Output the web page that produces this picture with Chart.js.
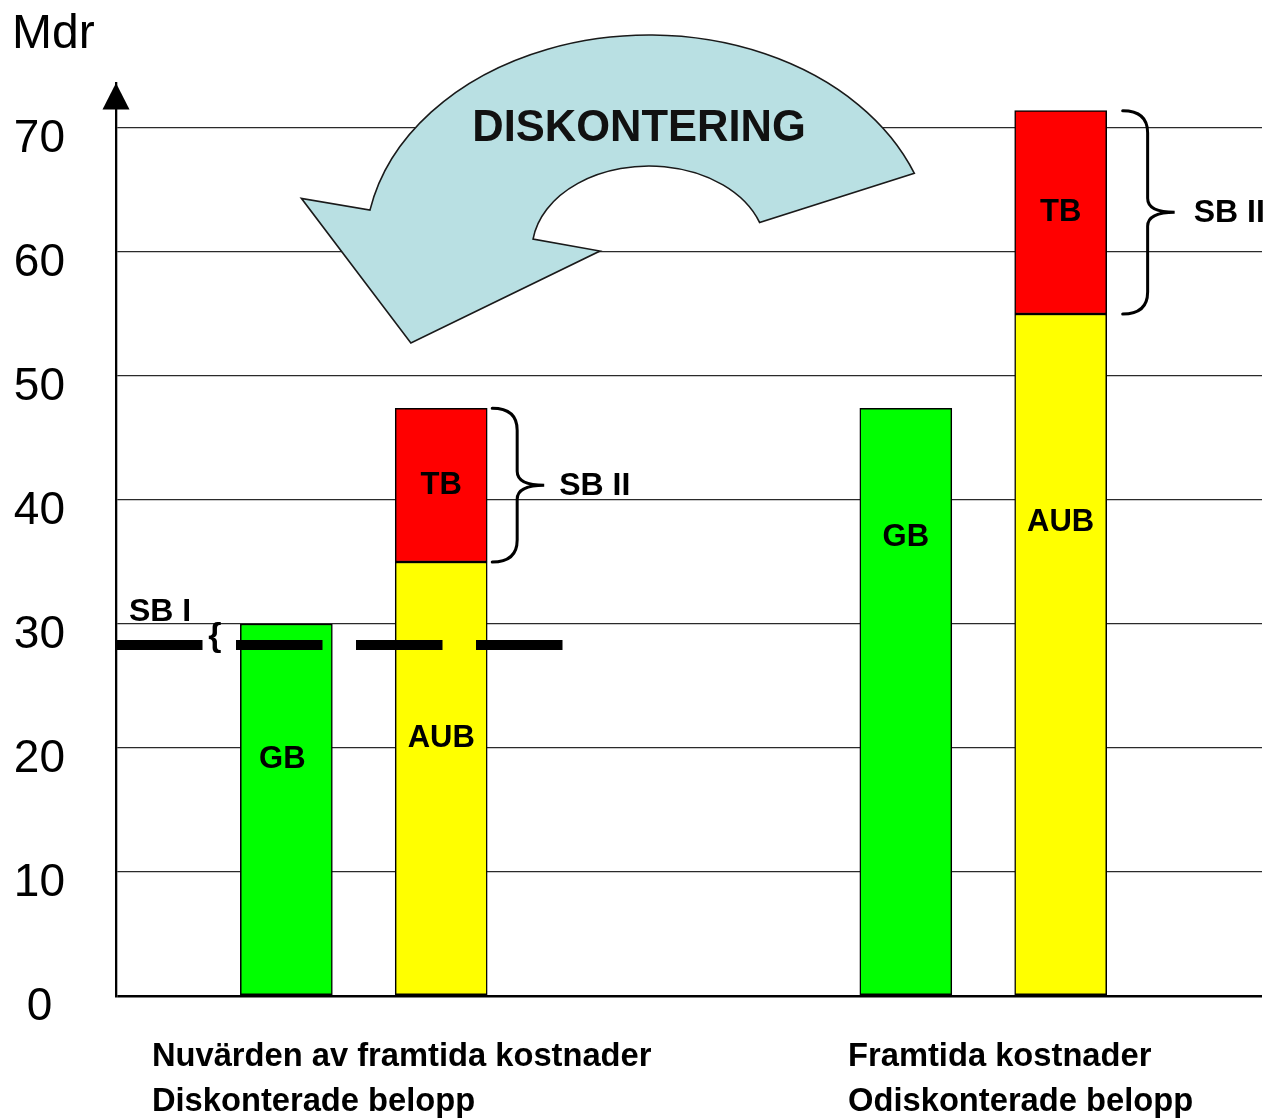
<!DOCTYPE html>
<html lang="sv">
<head>
<meta charset="utf-8">
<title>Diskontering</title>
<script src="https://cdn.jsdelivr.net/npm/chart.js@4.4.1/dist/chart.umd.min.js"></script>
<style>
  html,body{margin:0;padding:0;background:#fff;}
  #wrap{width:1280px;height:1118px;position:relative;}
</style>
</head>
<body>
<div id="wrap"><canvas id="chart" width="1280" height="1118"></canvas></div>
<script>
/* ── data ───────────────────────────── */
const BARS    = ['GB','AUB','GB','AUB'];
const BAR_X   = [1.1, 2.1, 5.1, 6.1];          // slot of each bar on the x axis
const GB_D    = [30, null, 47.4, null];
const AUB_D   = [null, 35, null, 55];
const TB_D    = [null, 12.4, null, 16.4];
const SB_I    = 28.3;                          // dashed level
const Y_TICKS = [0,10,20,30,40,50,60,70];
const GROUPS  = [
  ['Nuvärden av framtida kostnader','Diskonterade belopp'],
  ['Framtida kostnader','Odiskonterade belopp']
];

/* ── layout of the annotations (axis units) ── */
const FONT      = '"Liberation Sans", Arial, sans-serif';
const LABEL_AT  = [19.1, 20.8, 37.0, 38.2];    // height of GB / AUB text
const GROUP_X   = [0.232, 4.727];
const DASH_END  = 2.886;
const ARROW = {
  c:[3.442, 60.16], outer:[1.834, 17.34], inner:[0.7555, 6.774],
  oa:[-0.365, -2.955], ia:[-3.01, -0.335],
  barbOut:[1.197, 64.33], tip:[1.904, 52.66], barbIn:[3.125, 60.08],
  text:[3.377, 68.95]
};

function pts(data) {
  return BAR_X.map((x,i)=>({x, y:data[i]})).filter(p=>p.y != null);
}

function brace(ctx, x0, yt, yb, w) {
  const xs = x0 + w*0.48, xt = x0 + w, ym = (yt+yb)/2, r = 22, r2 = 14;
  ctx.beginPath();
  ctx.moveTo(x0, yt);
  ctx.quadraticCurveTo(xs, yt, xs, yt+r);
  ctx.lineTo(xs, ym-r2);
  ctx.quadraticCurveTo(xs, ym, xt, ym);
  ctx.quadraticCurveTo(xs, ym, xs, ym+r2);
  ctx.lineTo(xs, yb-r);
  ctx.quadraticCurveTo(xs, yb, x0, yb);
  ctx.stroke();
}

const overlay = {
  id:'overlay',
  afterDatasetsDraw(chart) {
    const {ctx, chartArea:ca, scales:{x, y}} = chart;
    const px = v => x.getPixelForValue(v), py = v => y.getPixelForValue(v);
    ctx.save();

    // axis arrow head
    ctx.fillStyle = '#000';
    ctx.beginPath();
    ctx.moveTo(ca.left, ca.top - 0.5);
    ctx.lineTo(ca.left - 13.5, ca.top + 26);
    ctx.lineTo(ca.left + 13.5, ca.top + 26);
    ctx.closePath(); ctx.fill();

    // Mdr
    ctx.font = `48px ${FONT}`; ctx.textAlign = 'left'; ctx.textBaseline = 'alphabetic';
    ctx.fillText('Mdr', 12, 48);

    // bar labels
    ctx.font = `bold 31px ${FONT}`; ctx.textAlign = 'center'; ctx.textBaseline = 'middle';
    BAR_X.forEach((bx,i) => {
      ctx.fillText(BARS[i], px(bx) - (GB_D[i] != null && i === 0 ? 4 : 0), py(LABEL_AT[i]));
      if (TB_D[i] != null) ctx.fillText('TB', px(bx), py(AUB_D[i] + TB_D[i]/2));
    });

    // dashed SB I line
    const yd = py(SB_I);
    ctx.strokeStyle = '#000'; ctx.lineWidth = 10; ctx.setLineDash([86.5, 33.5]);
    ctx.beginPath(); ctx.moveTo(ca.left, yd); ctx.lineTo(px(DASH_END), yd); ctx.stroke();
    ctx.setLineDash([]);
    ctx.font = `bold 32px ${FONT}`; ctx.textAlign = 'left'; ctx.textBaseline = 'alphabetic';
    ctx.fillText('SB I', ca.left + 13, py(30) - 3);
    ctx.textAlign = 'center'; ctx.textBaseline = 'middle';
    ctx.font = `bold 34px ${FONT}`;
    ctx.fillText('{', px(DASH_END) - 348, (py(30) + yd)/2 + 2);

    // SB II braces
    ctx.font = `bold 32px ${FONT}`;
    ctx.lineWidth = 3; ctx.lineCap = 'round';
    const meta = chart.getDatasetMeta(2);
    const offs = [5, 16], gaps = [67, 71];
    meta.data.forEach((bar, k) => {
      const i = BAR_X.indexOf(meta._parsed[k].x);
      const right = bar.x + bar.width/2;
      const yt = py(AUB_D[i] + TB_D[i]);
      const yb = py(AUB_D[i]);
      const x0 = right + offs[k];
      brace(ctx, x0, yt, yb, 52);
      ctx.textAlign = 'left'; ctx.textBaseline = 'middle';
      ctx.fillText('SB II', x0 + gaps[k], (yt+yb)/2 + 1);
    });

    // DISKONTERING arrow
    const A = ARROW;
    const cx = px(A.c[0]), cy = py(A.c[1]);
    const orx = px(A.c[0] + A.outer[0]) - cx, ory = cy - py(A.c[1] + A.outer[1]);
    const irx = px(A.c[0] + A.inner[0]) - cx, iry = cy - py(A.c[1] + A.inner[1]);
    ctx.beginPath();
    ctx.moveTo(cx + orx*Math.cos(A.oa[0]), cy + ory*Math.sin(A.oa[0]));
    ctx.ellipse(cx, cy, orx, ory, 0, A.oa[0], A.oa[1], true);
    ctx.lineTo(px(A.barbOut[0]), py(A.barbOut[1]));
    ctx.lineTo(px(A.tip[0]), py(A.tip[1]));
    ctx.lineTo(px(A.barbIn[0]), py(A.barbIn[1]));
    ctx.lineTo(cx + irx*Math.cos(A.ia[0]), cy + iry*Math.sin(A.ia[0]));
    ctx.ellipse(cx, cy, irx, iry, 0, A.ia[0], A.ia[1], false);
    ctx.closePath();
    ctx.fillStyle = '#b9e0e3'; ctx.fill();
    ctx.lineWidth = 1.6; ctx.lineJoin = 'miter'; ctx.lineCap = 'butt'; ctx.strokeStyle = '#1a1a1a';
    ctx.stroke();
    ctx.fillStyle = '#111'; ctx.font = `bold 43.5px ${FONT}`;
    ctx.textAlign = 'center'; ctx.textBaseline = 'alphabetic';
    ctx.fillText('DISKONTERING', px(A.text[0]), py(A.text[1]));

    // group captions under the axis
    ctx.fillStyle = '#000'; ctx.font = `bold 32.7px ${FONT}`; ctx.textAlign = 'left';
    GROUPS.forEach((lines, g) => {
      lines.forEach((t, j) => ctx.fillText(t, px(GROUP_X[g]), ca.bottom + 70 + j*45));
    });
    ctx.restore();
  }
};

const ctx = document.getElementById('chart').getContext('2d');
new Chart(ctx, {
  type:'bar',
  data:{
    datasets:[
      { label:'GB',  data:pts(GB_D),  backgroundColor:'#00ff00' },
      { label:'AUB', data:pts(AUB_D), backgroundColor:'#ffff00' },
      { label:'TB',  data:pts(TB_D),  backgroundColor:'#ff0000' }
    ].map(d => ({...d, borderColor:'#000', borderWidth:1.5, borderSkipped:false, barThickness:92}))
  },
  options:{
    responsive:false, animation:false,
    layout:{ padding:{ left:0, right:18, top:83.4, bottom:122 } },
    plugins:{ legend:{display:false}, tooltip:{enabled:false} },
    scales:{
      x:{ type:'linear', min:0, max:7.4, stacked:true, offset:false, display:false },
      y:{
        type:'linear', min:0, max:73.6, stacked:true,
        afterFit(s){ s.width = 116; },
        afterBuildTicks(s){ s.ticks = Y_TICKS.map(v => ({value:v})); },
        border:{ display:true, color:'#000', width:2.3 },
        grid:{ drawTicks:false,
               color: c => c.tick && c.tick.value === 0 ? '#000' : '#2a2a2a',
               lineWidth: c => c.tick && c.tick.value === 0 ? 2.5 : 1.3 },
        ticks:{ color:'#000', font:{ family:FONT, size:46 }, padding:51, crossAlign:'center', labelOffset:11 }
      }
    }
  },
  plugins:[overlay]
});
</script>
</body>
</html>
